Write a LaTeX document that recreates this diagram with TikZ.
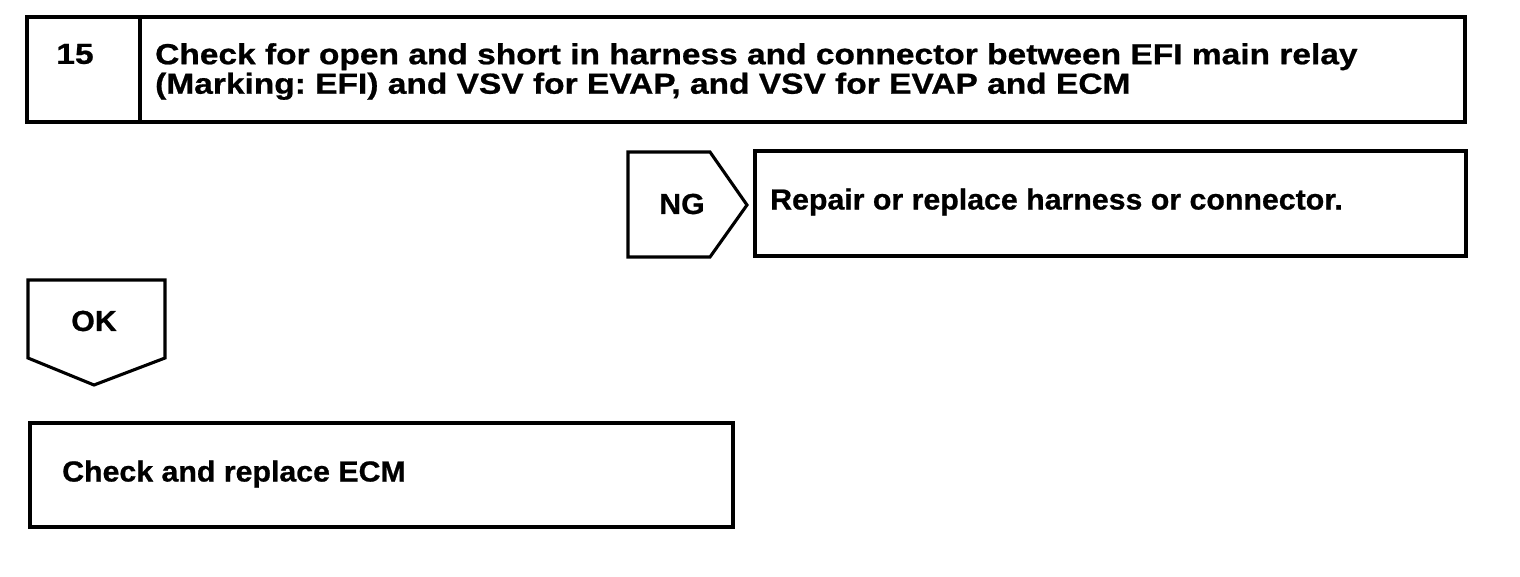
\documentclass[tikz,border=0pt]{standalone}
\usepackage{fontspec}
\setmainfont{Liberation Sans}[BoldFeatures={FakeStretch=1.045,FakeBold=0.8}]
\newfontfamily\widefont{Liberation Sans}[BoldFeatures={FakeStretch=1.155,FakeBold=0.8}]
\frenchspacing
\begin{document}
\begin{tikzpicture}[x=1pt,y=-1pt,
  frame/.style={draw=black,line width=3.1pt,line join=miter},
  lbl/.style={inner sep=0pt,font=\fontsize{29}{29.5}\selectfont\bfseries,text=black},
  widelbl/.style={inner sep=0pt,font=\widefont\fontsize{29}{29.5}\selectfont\bfseries,text=black}]
\useasboundingbox (0,0) rectangle (1520,576);
% step box
\draw[frame] (27,17) rectangle (1465,122);
\draw[frame] (140,17) -- (140,122);
\node[widelbl] (num) at (75,54) {15};
\node[widelbl,anchor=north west,align=left] (title) at (155,43)
  {Check for open and short in harness and connector between EFI main relay\\(Marking: EFI) and VSV for EVAP, and VSV for EVAP and ECM};
% NG
\draw[frame] (628,152) -- (710,152) -- (747,205) -- (710,257) -- (628,257) -- cycle;
\node[lbl] (ng) at (682,204) {NG};
\draw[frame] (755,151) rectangle (1466,256);
\node[lbl,anchor=west] (repair) at (770,202) {Repair or replace harness or connector.};
% OK
\draw[frame] (28,280) -- (165,280) -- (165,358) -- (94,385) -- (28,358) -- cycle;
\node[lbl] (ok) at (94,321) {OK};
% ECM
\draw[frame] (30,423) rectangle (733,527);
\node[lbl,anchor=west] (ecm) at (62,474) {Check and replace ECM};
\end{tikzpicture}
\end{document}
